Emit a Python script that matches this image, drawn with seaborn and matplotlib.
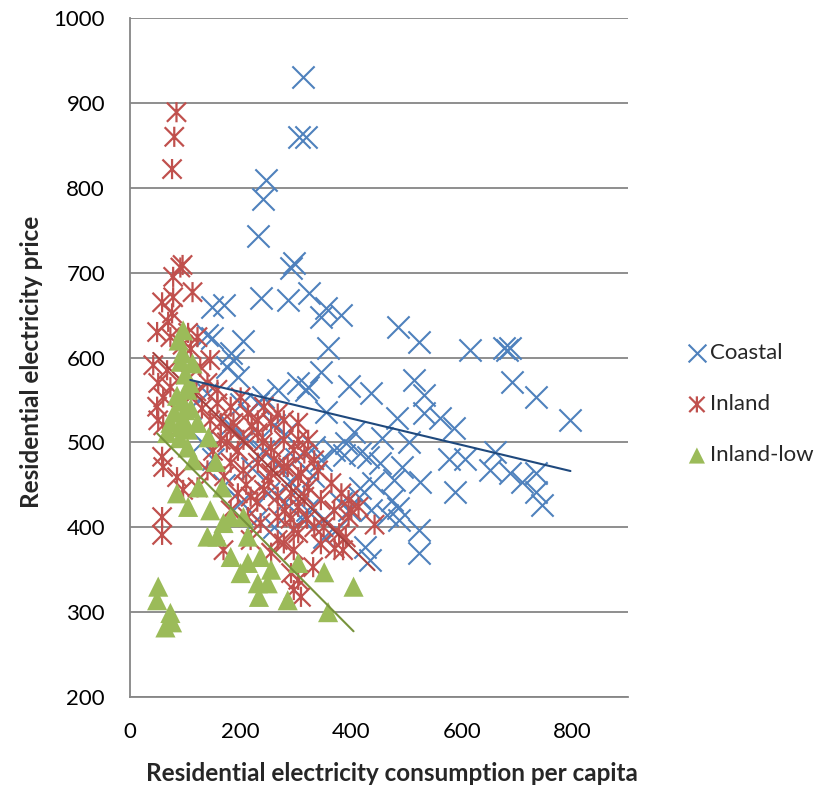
import numpy as np
import seaborn as sns
import matplotlib.pyplot as plt
from matplotlib.path import Path
from matplotlib.markers import MarkerStyle

# values (consumption per capita, price)
coastal_x = [324, 345, 355, 382, 358, 345, 322, 395, 436, 485, 522, 615, 676, 682, 687, 691, 733, 796,
             513, 531, 531, 560, 585, 482, 355, 404, 391, 415, 455, 504, 451, 491, 440, 524, 576, 605,
             660, 651, 687, 709, 733, 733, 745, 587, 485, 464, 522, 522, 433, 415, 382, 345, 369, 333,
             313, 305, 318, 245, 240, 231, 291, 296, 236, 285, 149, 169,
             140, 149, 205, 182, 187, 176, 195, 267, 304, 318, 240, 231, 140,
             387, 431, 478, 413, 473, 436, 395, 487, 424, 373, 351,
             109, 180, 210, 240, 265, 290, 310, 250, 220, 300, 330, 280, 200, 260, 320, 350,
             130, 150, 170, 200, 230, 260, 280, 310]
coastal_y = [676, 648, 658, 650, 611, 583, 565, 567, 558, 636, 618, 609, 611, 609, 611, 571, 553, 526,
             573, 556, 535, 529, 517, 529, 536, 512, 499, 487, 505, 500, 476, 471, 452, 453, 481, 481,
             489, 467, 464, 453, 464, 441, 426, 441, 423, 414, 397, 370, 361, 446, 429, 479, 491, 494,
             930, 860, 860, 809, 787, 743, 706, 711, 670, 668, 659, 662,
             627, 623, 620, 605, 597, 589, 577, 562, 570, 562, 553, 546, 558,
             485, 483, 456, 436, 432, 420, 420, 408, 377, 397, 388,
             540, 520, 505, 490, 475, 455, 440, 440, 470, 480, 460, 510, 545, 520, 420, 410,
             500, 480, 450, 430, 410, 400, 430, 410]

inland_x = [84, 80, 76, 91, 95, 78, 113, 78, 58, 76,
            49, 69, 73, 105, 122, 42, 67, 127, 145, 51, 73, 60, 49, 140, 158, 51, 158, 182, 200, 213,
            242, 267, 145, 164, 187, 231, 255, 278, 304,
            60, 58, 60, 85, 96, 58, 58, 122, 140, 164, 182, 205, 231, 255, 278, 304, 315, 182, 205, 231,
            255, 278, 304, 195, 218, 242, 267, 291, 315, 182, 213, 236, 267, 296, 169, 218, 267, 255,
            291, 304, 309, 296,
            322, 296, 333, 285, 309, 340, 364, 382, 322, 345, 304, 395, 413, 442, 369, 395, 333, 304,
            278, 378, 385, 296, 331,
            110, 95, 120, 100, 130, 175, 195, 220, 240, 260, 150, 170, 210, 250, 230, 280, 320, 350,
            345, 370, 390, 400, 290]
inland_y = [889, 860, 822, 706, 709, 695, 677, 671, 665, 652,
            630, 642, 624, 629, 624, 591, 585, 589, 597, 570, 565, 553, 542, 570, 562, 526, 546, 542, 553, 534,
            542, 534, 526, 523, 523, 526, 523, 526, 523,
            520, 483, 471, 459, 444, 412, 391, 447, 467, 503, 514, 503, 511, 494, 503, 503, 487, 476, 467, 476,
            464, 471, 459, 440, 436, 444, 436, 440, 436, 420, 412, 405, 412, 397, 373, 385, 385, 370,
            346, 338, 318, 326,
            503, 491, 479, 471, 464, 467, 452, 440, 447, 432, 424, 432, 424, 403, 420, 412, 400, 393,
            381, 393, 373, 373, 353,
            610, 615, 560, 580, 540, 500, 490, 520, 500, 480, 490, 460, 450, 455, 430, 420, 410, 400,
            380, 375, 388, 420, 410]

low_x = [96, 95, 113, 104, 100, 91, 122, 67, 142, 104, 115, 155, 85, 105, 124, 167, 145, 169, 140, 158,
         182, 205, 213, 182, 213, 236, 255, 231, 249, 233, 304, 285, 51, 49, 73, 64, 76, 351, 404, 358,
         73, 96, 200,
         88, 92, 100, 108, 85, 95, 110, 80, 90, 105]
low_y = [632, 605, 593, 562, 538, 518, 523, 511, 506, 494, 479, 477, 440, 424, 447, 447, 420, 405, 389, 389,
         412, 412, 389, 365, 358, 365, 350, 334, 334, 318, 358, 314, 330, 314, 299, 282, 288, 347, 330, 300,
         523, 528, 346,
         620, 595, 580, 570, 555, 548, 540, 535, 505, 515]

blue, red, green = "#4F81BD", "#C0504D", "#9BBB59"
grey = "#868686"

sns.set_theme(style="white")
plt.rcParams['font.family'] = ['Lato', 'DejaVu Sans']

fig = plt.figure(figsize=(8.38, 7.88), dpi=100)
ax = fig.add_axes([130 / 838, 91 / 788, 498 / 838, 679 / 788])

# asterisk marker: an x with a vertical bar
star = Path([(-1, -1), (1, 1), (-1, 1), (1, -1), (0, -1.05), (0, 1.05)],
            [Path.MOVETO, Path.LINETO, Path.MOVETO, Path.LINETO, Path.MOVETO, Path.LINETO])
star_m = MarkerStyle(star, fillstyle='none')

sns.scatterplot(x=coastal_x, y=coastal_y, marker='x', s=16 ** 2, color=blue,
                linewidth=1.5, label='Coastal', ax=ax, zorder=3)
sns.scatterplot(x=inland_x, y=inland_y, marker=star_m, s=14.5 ** 2, color=red,
                linewidth=1.6, label='Inland', ax=ax, zorder=4)
sns.scatterplot(x=low_x, y=low_y, marker='^', s=14.5 ** 2, color=green,
                edgecolor='none', label='Inland-low', ax=ax, zorder=5)

# linear trend lines
sns.regplot(x=coastal_x, y=coastal_y, scatter=False, ci=None, color="#1F497D",
            line_kws={'lw': 1.5, 'zorder': 6}, ax=ax)
sns.regplot(x=inland_x, y=inland_y, scatter=False, ci=None, color="#A5403D",
            line_kws={'lw': 1.5, 'zorder': 4.5}, ax=ax)
sns.regplot(x=low_x, y=low_y, scatter=False, ci=None, color="#77933C",
            line_kws={'lw': 1.5, 'zorder': 6}, ax=ax)

ax.set_xlim(0, 900)
ax.set_ylim(200, 1000)
ax.set_xticks(range(0, 801, 200))
ax.set_yticks(range(200, 1001, 100))
ax.yaxis.grid(True, color=grey, lw=1.3)
ax.xaxis.grid(False)
ax.set_axisbelow(True)
for side in ['top', 'right']:
    ax.spines[side].set_visible(False)
for side in ['left', 'bottom']:
    ax.spines[side].set_color(grey)
    ax.spines[side].set_linewidth(1.3)
ax.tick_params(length=0, pad=18, labelsize=16, colors='black')

ax.set_xlabel('Residential electricity consumption per capita', fontsize=17.5, fontweight='bold')
ax.set_ylabel('Residential electricity price', fontsize=17.5, fontweight='bold')
ax.xaxis.set_label_coords(0.526, -0.112)
ax.xaxis.label.set_va('center')
ax.yaxis.set_label_coords(-0.197, 0.493)
ax.yaxis.label.set_va('center')

h, l = ax.get_legend_handles_labels()
ax.legend(h[:3], l[:3], loc='center left', bbox_to_anchor=(688 / 838, 0.487),
          bbox_transform=fig.transFigure, frameon=False, handlelength=0.8,
          handletextpad=0.2, labelspacing=1.4, borderpad=0, borderaxespad=0,
          markerscale=0.8, fontsize=16)

fig.savefig('out.png', dpi=100)
